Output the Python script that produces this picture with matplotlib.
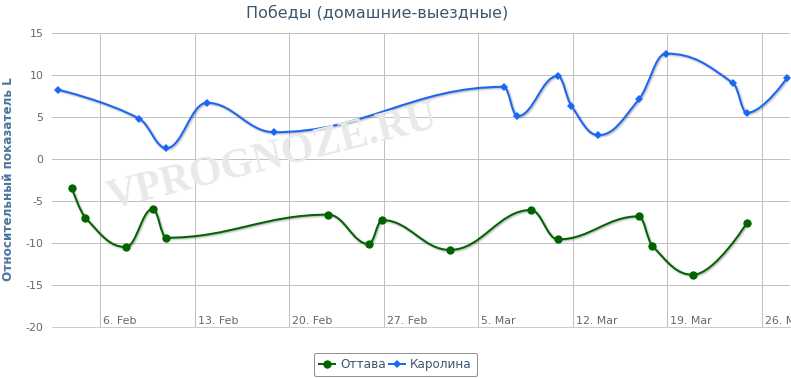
import numpy as np
import matplotlib
matplotlib.use("Agg")
import matplotlib.pyplot as plt
import matplotlib.dates as mdates
import matplotlib.patheffects as pe
from matplotlib.path import Path
from matplotlib.patches import PathPatch
from matplotlib.lines import Line2D

plt.rcParams['font.family'] = ['DejaVu Sans']
plt.rcParams['axes.unicode_minus'] = False

# ---------------- data ----------------
title = "Победы (домашние-выездные)"
y_label = "Относительный показатель L"
watermark = "VPROGNOZE.RU"

ottawa_name = "Оттава"
ottawa_dates = ["2012-02-04", "2012-02-05", "2012-02-08", "2012-02-10", "2012-02-11",
                "2012-02-23", "2012-02-26", "2012-02-27", "2012-03-03", "2012-03-09",
                "2012-03-11", "2012-03-17", "2012-03-18", "2012-03-21", "2012-03-25"]
ottawa_values = [-3.45, -6.95, -10.45, -5.9, -9.35,
                 -6.6, -10.1, -7.25, -10.8, -6.05,
                 -9.55, -6.8, -10.3, -13.75, -7.6]

carolina_name = "Каролина"
carolina_dates = ["2012-02-03", "2012-02-09", "2012-02-11", "2012-02-14", "2012-02-19",
                  "2012-03-07", "2012-03-08", "2012-03-11", "2012-03-12", "2012-03-14",
                  "2012-03-17", "2012-03-19", "2012-03-24", "2012-03-25", "2012-03-28"]
carolina_values = [8.25, 4.8, 1.3, 6.7, 3.2,
                   8.6, 5.1, 9.9, 6.35, 2.85,
                   7.1, 12.55, 9.0, 5.5, 9.7]

tick_dates = ["2012-02-06", "2012-02-13", "2012-02-20", "2012-02-27",
              "2012-03-05", "2012-03-12", "2012-03-19", "2012-03-26"]
tick_labels = ["6. Feb", "13. Feb", "20. Feb", "27. Feb",
               "5. Mar", "12. Mar", "19. Mar", "26. Mar"]
y_ticks = [-20, -15, -10, -5, 0, 5, 10, 15]

# ---------------- style ----------------
GREEN = "#006400"
BLUE = "#1a66f5"
TZ_SHIFT = -0.11  # days (time-zone offset of points vs gridlines)
PX = 72 / 100.0   # points per pixel at dpi 100


def to_num(ds):
    return mdates.date2num(np.array(ds, dtype="datetime64[D]"))


def hc_spline(xs, ys, smoothing=1.5):
    n = len(xs)
    lc = [None] * n
    rc = [None] * n
    d = smoothing + 1
    for i in range(1, n - 1):
        px, py = xs[i], ys[i]
        lx, ly = xs[i - 1], ys[i - 1]
        nx, ny = xs[i + 1], ys[i + 1]
        lcx = (smoothing * px + lx) / d
        lcy = (smoothing * py + ly) / d
        rcx = (smoothing * px + nx) / d
        rcy = (smoothing * py + ny) / d
        if rcx != lcx:
            corr = (rcy - lcy) * (rcx - px) / (rcx - lcx) + py - rcy
            lcy += corr
            rcy += corr
            if lcy > ly and lcy > py:
                lcy = max(ly, py); rcy = 2 * py - lcy
            elif lcy < ly and lcy < py:
                lcy = min(ly, py); rcy = 2 * py - lcy
            if rcy > ny and rcy > py:
                rcy = max(ny, py); lcy = 2 * py - rcy
            elif rcy < ny and rcy < py:
                rcy = min(ny, py); lcy = 2 * py - rcy
        lc[i] = (lcx, lcy)
        rc[i] = (rcx, rcy)
    verts = [(xs[0], ys[0])]
    codes = [Path.MOVETO]
    for i in range(1, n):
        c1 = rc[i - 1] if rc[i - 1] is not None else (xs[i - 1], ys[i - 1])
        c2 = lc[i] if lc[i] is not None else (xs[i], ys[i])
        verts += [c1, c2, (xs[i], ys[i])]
        codes += [Path.CURVE4] * 3
    return Path(verts, codes)


fig = plt.figure(figsize=(7.91, 3.78), dpi=100)
W, H = 791, 378
left_px, right_px, top_px, bottom_px = 51.7, 790, 33.0, 327.3
ax = fig.add_axes([left_px / W, 1 - bottom_px / H,
                   (right_px - left_px) / W, (bottom_px - top_px) / H])

t0 = to_num(["2012-02-06"])[0]
ax.set_xlim(t0 - 3.6, t0 + 51.09)
ax.set_ylim(-20, 15)

for s in ["top", "right", "left"]:
    ax.spines[s].set_visible(False)
ax.spines["bottom"].set_color("#C0D0E0")
ax.spines["bottom"].set_linewidth(1 * PX)
ax.spines["bottom"].set_zorder(3)

ax.set_axisbelow(True)
ax.set_yticks(y_ticks)
ax.set_yticklabels([str(v) for v in y_ticks])
ax.tick_params(axis="y", length=0, pad=6.0, labelsize=11 * PX, labelcolor="#666666")
ax.set_xticks(to_num(tick_dates))
ax.set_xticklabels([])
ax.tick_params(axis="x", length=0)
ax.grid(True, color="#C0C0C0", linewidth=1 * PX)

for d, lab in zip(to_num(tick_dates), tick_labels):
    ax.annotate(lab, xy=(d, 0), xycoords=("data", "axes fraction"),
                xytext=(3, 3.8), textcoords="offset pixels",
                ha="left", va="baseline", fontsize=11 * PX, color="#666666",
                annotation_clip=False)

# watermark
ax.text(274 / W * 0 + 0.5, 0.5, watermark, transform=None)  # placeholder removed below
ax.texts[-1].remove()
fig.text(272 / W, 1 - 158 / H, watermark, rotation=14, ha="center", va="center",
         fontsize=30, fontweight="bold", family=["Liberation Serif", "DejaVu Serif"],
         color="#e9e9e9", zorder=0.4)

shadow = [pe.SimpleLineShadow(offset=(1 * PX, -1 * PX), shadow_color="k", alpha=0.05, linewidth=5 * PX),
          pe.SimpleLineShadow(offset=(1 * PX, -1 * PX), shadow_color="k", alpha=0.10, linewidth=3 * PX),
          pe.SimpleLineShadow(offset=(1 * PX, -1 * PX), shadow_color="k", alpha=0.15, linewidth=1 * PX),
          pe.Normal()]

series = [(ottawa_dates, ottawa_values, GREEN, "o", 6.0, ottawa_name),
          (carolina_dates, carolina_values, BLUE, "D", 4.2, carolina_name)]
handles = []
for dates, vals, col, mk, ms, name in series:
    xs = to_num(dates) + TZ_SHIFT
    path = hc_spline(list(xs), list(vals))
    patch = PathPatch(path, facecolor="none", edgecolor=col, linewidth=2 * PX,
                      zorder=4, capstyle="round", joinstyle="round")
    patch.set_path_effects(shadow)
    ax.add_patch(patch)
    ax.plot(xs, vals, linestyle="none", marker=mk, markersize=ms, color=col,
            markeredgewidth=0, zorder=5)
    handles.append(Line2D([], [], color=col, linewidth=2 * PX, marker=mk,
                          markersize=ms, markeredgewidth=0, label=name))

fig.text(377 / W, 1 - 12.5 / H, title, ha="center", va="center",
         fontsize=16 * PX, color="#3E576F")
fig.text(8.5 / W, 1 - 179 / H, y_label, rotation=90, ha="center", va="center",
         fontsize=12 * PX, fontweight="bold", color="#4D759E")

leg = fig.legend(handles=handles, loc="center", bbox_to_anchor=(395.5 / W, 1 - 364.5 / H),
                 ncol=2, fontsize=12 * PX, frameon=True, fancybox=True,
                 handlelength=1.35, handletextpad=0.4, columnspacing=0.3,
                 borderpad=0.45, labelcolor="#3E576F")
fr = leg.get_frame()
fr.set_edgecolor("#909090")
fr.set_linewidth(1 * PX)
fr.set_facecolor("white")
fr.set_alpha(1)

fig.savefig("out.png", dpi=100)
